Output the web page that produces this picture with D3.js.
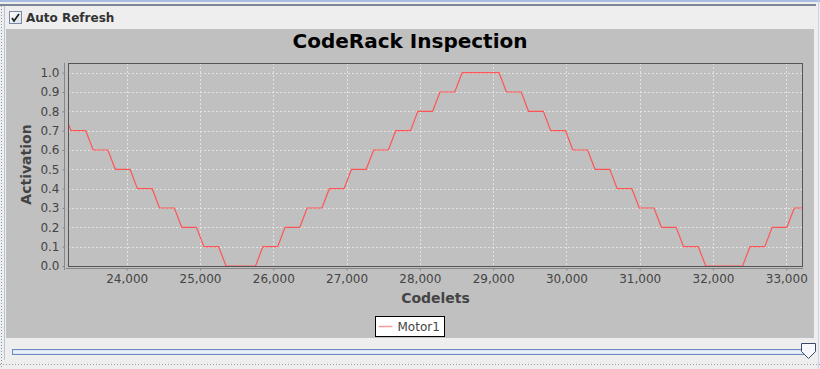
<!DOCTYPE html>
<html>
<head>
<meta charset="utf-8">
<script src="https://cdn.jsdelivr.net/npm/d3@7/dist/d3.min.js"></script>
<style>
  html, body { margin: 0; padding: 0; background: #eeeeee; }
  svg { display: block; font-family: "DejaVu Sans", sans-serif; }
</style>
</head>
<body>
<svg id="chart" width="820" height="369"></svg>
<script>
// ---------- data ----------
const chartTitle = "CodeRack Inspection";
const xLabel = "Codelets";
const yLabel = "Activation";
const seriesName = "Motor1";
const codelets = [23139,23240,23341,23441,23542,23643,23744,23844,23945,24046,24146,24247,24348,24448,24549,24650,24751,24851,24952,25053,25153,25254,25355,25455,25556,25657,25758,25858,25959,26060,26160,26261,26362,26462,26563,26664,26765,26865,26966,27067,27167,27268,27369,27469,27570,27671,27772,27872,27973,28074,28174,28275,28376,28476,28577,28678,28779,28879,28980,29081,29181,29282,29383,29483,29584,29685,29786,29886,29987,30088,30188,30289,30390,30490,30591,30692,30793,30893,30994,31095,31195,31296,31397,31497,31598,31699,31800,31900,32001,32102,32202,32303,32404,32504,32605,32706,32807,32907,33008,33109,33209,33310];
const motor1 = [0.8,
  0.7,0.7,0.7, 0.6,0.6,0.6, 0.5,0.5,0.5, 0.4,0.4,0.4, 0.3,0.3,0.3, 0.2,0.2,0.2, 0.1,0.1,0.1,
  0.0,0.0,0.0,0.0,0.0,
  0.1,0.1,0.1, 0.2,0.2,0.2, 0.3,0.3,0.3, 0.4,0.4,0.4, 0.5,0.5,0.5, 0.6,0.6,0.6, 0.7,0.7,0.7, 0.8,0.8,0.8, 0.9,0.9,0.9,
  1.0,1.0,1.0,1.0,1.0,1.0,
  0.9,0.9,0.9, 0.8,0.8,0.8, 0.7,0.7,0.7, 0.6,0.6,0.6, 0.5,0.5,0.5, 0.4,0.4,0.4, 0.3,0.3,0.3, 0.2,0.2,0.2, 0.1,0.1,0.1,
  0.0,0.0,0.0,0.0,0.0,0.0,
  0.1,0.1,0.1, 0.2,0.2,0.2, 0.3,0.3,0.3];
const xTicks = [24000,25000,26000,27000,28000,29000,30000,31000,32000,33000];
const yTicks = [0,0.1,0.2,0.3,0.4,0.5,0.6,0.7,0.8,0.9,1.0];
const xDomain = [23199, 33228];
const yDomain = [0, 1.05];

// ---------- layout ----------
const svg = d3.select("#chart");
const W = 820, H = 369;
const plot = {left: 68, right: 803, top: 63, bottom: 266};

// window chrome
svg.append("rect").attr("x",0).attr("y",0).attr("width",W).attr("height",H).attr("fill","#eeeeee");
svg.append("rect").attr("x",0).attr("y",0).attr("width",W).attr("height",2).attr("fill","#a9bde3");
svg.append("rect").attr("x",0).attr("y",4).attr("width",816).attr("height",2).attr("fill","#7b8696");
svg.append("line").attr("x1",1.5).attr("x2",1.5).attr("y1",6).attr("y2",369)
  .attr("stroke","#8a94a6").attr("stroke-dasharray","1,2");
svg.append("line").attr("x1",4.5).attr("x2",4.5).attr("y1",6).attr("y2",360)
  .attr("stroke","#b8c4d8");
svg.append("line").attr("x1",818.5).attr("x2",818.5).attr("y1",0).attr("y2",369)
  .attr("stroke","#c5d3ec");
svg.append("line").attr("x1",0).attr("x2",820).attr("y1",364.5).attr("y2",364.5)
  .attr("stroke","#9aa0aa").attr("stroke-dasharray","1,2");

// checkbox
const cb = svg.append("g").attr("transform","translate(9,11)");
const grad = svg.append("defs").append("linearGradient").attr("id","cbg").attr("x1",0).attr("y1",0).attr("x2",1).attr("y2",1);
grad.append("stop").attr("offset","0%").attr("stop-color","#ffffff");
grad.append("stop").attr("offset","100%").attr("stop-color","#d8dee8");
cb.append("rect").attr("x",0.5).attr("y",0.5).attr("width",12).attr("height",12)
  .attr("fill","url(#cbg)").attr("stroke","#7a8aa6");
cb.append("path").attr("d","M3,7 L5,10 L10,3").attr("fill","none").attr("stroke","#222").attr("stroke-width",1.8);
svg.append("text").attr("x",26).attr("y",22).attr("font-size",12).attr("font-weight","bold")
  .attr("fill","#333").text("Auto Refresh");

// chart panel
svg.append("rect").attr("x",6).attr("y",29).attr("width",808).attr("height",309).attr("fill","#c0c0c0");

// title
svg.append("text").attr("x",410).attr("y",48).attr("text-anchor","middle")
  .attr("font-size",20).attr("font-weight","bold").attr("fill","#000").text(chartTitle);

// scales
const x = d3.scaleLinear().domain(xDomain).range([plot.left, plot.right]);
const y = d3.scaleLinear().domain(yDomain).range([plot.bottom, plot.top]);

// grid
const grid = svg.append("g");
grid.selectAll("line.gx").data(xTicks).join("line")
  .attr("x1",d=>Math.round(x(d))+0.5).attr("x2",d=>Math.round(x(d))+0.5)
  .attr("y1",plot.top).attr("y2",plot.bottom)
  .attr("stroke","#ececec").attr("stroke-width",0.8).attr("stroke-dasharray","2,2");
grid.selectAll("line.gy").data(yTicks.filter(d=>d>0)).join("line")
  .attr("x1",plot.left).attr("x2",plot.right)
  .attr("y1",d=>Math.round(y(d))+0.5).attr("y2",d=>Math.round(y(d))+0.5)
  .attr("stroke","#ececec").attr("stroke-width",0.8).attr("stroke-dasharray","2,2");

// series
const clipId = "plotclip";
svg.append("clipPath").attr("id",clipId).append("rect")
  .attr("x",plot.left).attr("y",plot.top-2).attr("width",plot.right-plot.left).attr("height",plot.bottom-plot.top+4);
const pts = codelets.map((c,i)=>[c, motor1[i]]);
svg.append("path").datum(pts).attr("clip-path",`url(#${clipId})`)
  .attr("d", d3.line().x(d=>x(d[0])).y(d=>y(d[1])))
  .attr("fill","none").attr("stroke","#ff5555").attr("stroke-width",1.2);

// plot border
svg.append("rect").attr("x",plot.left+0.5).attr("y",plot.top+0.5)
  .attr("width",plot.right-plot.left-1).attr("height",plot.bottom-plot.top)
  .attr("fill","none").attr("stroke","#555555");

// y axis
const yAxis = d3.axisLeft(y).tickValues(yTicks).tickFormat(d3.format(".1f")).tickSize(2).tickPadding(3);
const gy = svg.append("g").attr("transform",`translate(${plot.left-3.5},0)`).call(yAxis);
gy.select(".domain").attr("stroke","#888").attr("d",`M-0,${plot.top}V${plot.bottom+4}`);
gy.selectAll(".tick line").attr("stroke","#888");
gy.selectAll(".tick text").attr("font-family","DejaVu Sans").attr("font-size",12).attr("fill","#444");

// x axis
const xAxis = d3.axisBottom(x).tickValues(xTicks).tickFormat(d3.format(",")).tickSize(2).tickPadding(4);
const gx = svg.append("g").attr("transform",`translate(0,${plot.bottom+2.5})`).call(xAxis);
gx.select(".domain").attr("stroke","#888").attr("d",`M${plot.left-2},0H${plot.right}`);
gx.selectAll(".tick line").attr("stroke","#888");
gx.selectAll(".tick text").attr("font-family","DejaVu Sans").attr("font-size",12).attr("fill","#444");

// axis labels
svg.append("text").attr("x",(plot.left+plot.right)/2).attr("y",303).attr("text-anchor","middle")
  .attr("font-size",14).attr("font-weight","bold").attr("fill","#444").text(xLabel);
svg.append("text").attr("transform",`translate(31,${(plot.top+plot.bottom)/2}) rotate(-90)`)
  .attr("text-anchor","middle").attr("font-size",14).attr("font-weight","bold").attr("fill","#444").text(yLabel);

// legend
const lg = svg.append("g").attr("transform","translate(375.5,316.5)");
lg.append("rect").attr("width",69).attr("height",20).attr("fill","#ffffff").attr("stroke","#000");
lg.append("line").attr("x1",3).attr("x2",17).attr("y1",10).attr("y2",10).attr("stroke","#ff9a9a").attr("stroke-width",1.5);
lg.append("text").attr("x",22).attr("y",14.5).attr("font-size",12).attr("fill","#444").text(seriesName);

// slider
const sg = svg.append("defs").append("linearGradient").attr("id","trk").attr("x1",0).attr("y1",0).attr("x2",0).attr("y2",1);
sg.append("stop").attr("offset","0%").attr("stop-color","#c8d6ee");
sg.append("stop").attr("offset","50%").attr("stop-color","#f4f7fc");
sg.append("stop").attr("offset","100%").attr("stop-color","#c8d6ee");
svg.append("rect").attr("x",12.5).attr("y",349.5).attr("width",793).attr("height",5)
  .attr("fill","url(#trk)").attr("stroke","#6f8cc4");
svg.append("path").attr("d","M801.5,343.5 H815.5 V351.5 L808.5,358.5 L801.5,351.5 Z")
  .attr("fill","#f6f8fb").attr("stroke","#3a4a66");
</script>
</body>
</html>
